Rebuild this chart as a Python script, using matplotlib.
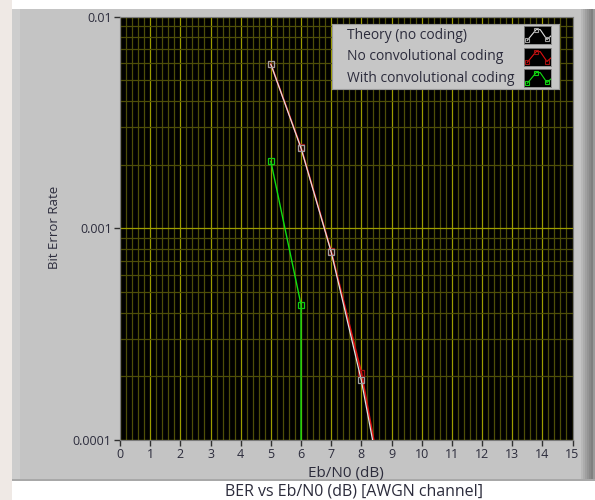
import matplotlib
matplotlib.use("Agg")
import matplotlib.pyplot as plt
from matplotlib.patches import Rectangle
from matplotlib.ticker import FixedLocator, NullFormatter, LogLocator, MultipleLocator

# ---- data ----
ebn0_theory = [5, 6, 7, 8, 9, 10]
ber_theory = [0.00595, 0.00239, 0.000773, 0.000191, 0.0000336, 0.00000387]
ebn0_nocode = [5, 6, 7, 8, 9]
ber_nocode = [0.00597, 0.00241, 0.00078, 0.000208, 0.000035]
ebn0_code = [5, 6, 7]
ber_code = [0.00207, 0.000436, 0.0]
x_ticks = list(range(0, 16))
y_ticks = [0.0001, 0.001, 0.01]
y_tick_labels = ["0.0001", "0.001", "0.01"]
legend_labels = ["Theory (no coding)", "No convolutional coding", "With convolutional coding"]
series_colors = ["#e0e0e0", "#e01010", "#10e010"]
marker_colors = ["#a0a0a0", "#a01010", "#10d010"]

plt.rcParams['font.family'] = ['Open Sans', 'DejaVu Sans']
TXT = "#2c2c3c"

W, H = 595, 500
fig = plt.figure(figsize=(W / 100, H / 100), dpi=100)
fig.patch.set_facecolor("#ffffff")

def fx(px):
    return px / W

def fy(py):
    return 1 - py / H

def panel_rect(x0, y0, w, h, color, z=-5):
    fig.patches.append(Rectangle((fx(x0), fy(y0 + h)), w / W, h / H, transform=fig.transFigure,
                                 facecolor=color, edgecolor="none", zorder=z))

# panel background
panel_rect(0, 0, 12, 500, "#efe9e5")
panel_rect(12, 9, 583, 470, "#c4c4c4")
panel_rect(12, 9, 8, 470, "#cdcdcd", z=-4)
for i, c in enumerate(["#b8b8b8", "#acacac", "#a0a0a0", "#959595", "#8a8a8a", "#808080", "#9a9a9a"]):
    panel_rect(581 + i * 2, 9, 2, 470, c, z=-4)
panel_rect(12, 479, 583, 2, "#a8a8a8", z=-4)

ax = fig.add_axes([fx(120), fy(440), fx(572.5 - 120), (440 - 16.5) / H], zorder=1)
ax.set_facecolor("#000000")
ax.set_yscale("log", nonpositive="clip")
ax.set_xlim(0, 15)
ax.set_ylim(0.0001, 0.01)

ax.xaxis.set_major_locator(FixedLocator(x_ticks))
ax.xaxis.set_minor_locator(MultipleLocator(0.2))
ax.yaxis.set_major_locator(FixedLocator(y_ticks))
ax.yaxis.set_minor_locator(LogLocator(base=10, subs=range(2, 10)))
ax.yaxis.set_minor_formatter(NullFormatter())
ax.set_yticklabels(y_tick_labels)
ax.set_xticklabels([str(v) for v in x_ticks])

ax.grid(True, which="major", color="#9c9c00", lw=0.9)
ax.grid(True, which="minor", color="#4e4e08", lw=0.9)
ax.set_axisbelow(True)
ax.tick_params(which="minor", length=0)
ax.tick_params(which="major", length=4, width=1, color="#303030", labelsize=9, labelcolor=TXT, pad=2)
for s in ax.spines.values():
    s.set_color("#7a7a7a")
    s.set_linewidth(0.8)

ax.plot(ebn0_nocode, ber_nocode, color=series_colors[1], lw=1.2, marker="s", ms=4, mfc="none",
        mec=marker_colors[1], mew=0.9, zorder=3)
ax.plot(ebn0_theory, ber_theory, color=series_colors[0], lw=0.9, marker="s", ms=4, mfc="none",
        mec=marker_colors[0], mew=0.9, zorder=4)
ax.plot(ebn0_code, ber_code, color=series_colors[2], lw=1.0, marker="s", ms=4, mfc="none",
        mec=marker_colors[2], mew=0.9, zorder=4)

ax.set_xlabel("Eb/N0 (dB)", fontsize=11, color=TXT, labelpad=3)
fig.text(fx(55), fy(227), "Bit Error Rate", rotation=90, ha="center", va="center", fontsize=9.5, color=TXT)
fig.text(fx(354), fy(491), "BER vs Eb/N0 (dB) [AWGN channel]", ha="center", va="center", fontsize=11.5, color=TXT)

# legend box
leg_ax = fig.add_axes([fx(332), fy(89), fx(559 - 332), (89 - 24) / H], zorder=5)
leg_ax.set_facecolor("#c6c6c6")
leg_ax.set_xticks([])
leg_ax.set_yticks([])
for s in leg_ax.spines.values():
    s.set_color("#9a9a9a")
    s.set_linewidth(0.8)

rows_y = [35, 57, 78]
for lab, ly, col, mc in zip(legend_labels, rows_y, series_colors, marker_colors):
    fig.text(fx(347), fy(ly), lab, ha="left", va="center", fontsize=10, color=TXT, zorder=8)
    iax = fig.add_axes([fx(524), fy(ly + 9), fx(27), 18 / H], zorder=7)
    iax.set_facecolor("#000000")
    iax.plot([0.12, 0.45, 0.6, 0.85, 1.0], [0.2, 0.8, 0.8, 0.25, 0.45], color=col, lw=0.8)
    iax.plot([0.12, 0.45, 0.85], [0.2, 0.8, 0.25], ls="none", marker="s", ms=3,
             mfc="none", mec=mc, mew=0.8)
    iax.set_xlim(0, 1)
    iax.set_ylim(0, 1)
    iax.set_xticks([])
    iax.set_yticks([])
    for s in iax.spines.values():
        s.set_color("#888888")
        s.set_linewidth(0.6)

fig.savefig("out.png", dpi=100, facecolor=fig.get_facecolor())
